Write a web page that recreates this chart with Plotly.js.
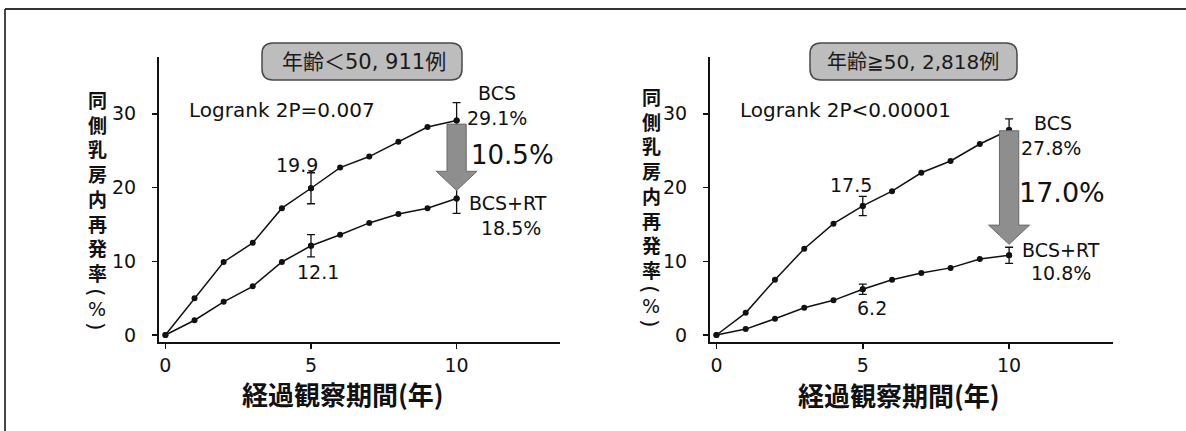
<!DOCTYPE html>
<html><head><meta charset="utf-8">
<script src="https://cdn.plot.ly/plotly-3.0.1.min.js"></script>
<style>html,body{margin:0;padding:0;background:#fff;}#chart{width:1186px;height:431px;}</style>
</head><body><div id="chart"></div>
<script>
// ---- data ----
const years = [0,1,2,3,4,5,6,7,8,9,10];
const youngBCS = [0,5.0,9.9,12.5,17.2,19.9,22.7,24.2,26.2,28.2,29.1];
const youngRT  = [0,2.0,4.5,6.6,9.9,12.1,13.6,15.2,16.4,17.2,18.5];
const oldBCS   = [0,3.0,7.5,11.7,15.1,17.5,19.5,22.0,23.6,25.9,27.8];
const oldRT    = [0,0.8,2.2,3.7,4.7,6.2,7.5,8.4,9.1,10.3,10.8];
const errYears = [5,10];
const youngBCSErr = [2.1,2.4];
const youngRTErr  = [1.5,2.0];
const oldBCSErr   = [1.3,1.5];
const oldRTErr    = [0.7,1.1];
const panelTitles = ['年齢＜50, 911例','年齢≧50, 2,818例'];
const logrankText = ['Logrank 2P=0.007','Logrank 2P<0.00001'];
const diffLabels  = ['10.5%','17.0%'];
const groupNames  = ['BCS','BCS+RT'];
const xTicks = [0,5,10];
const yTicks = [0,10,20,30];
const yTitleMain = ['同','側','乳','房','内','再','発','率'];
const yTitleUnit = ['(','%',')'];
const xTitle = '経過観察期間(年)';

// ---- helpers ----
const W = 1186, H = 431;
const PX = x => x / W, PY = y => 1 - y / H;
const LAT = 'DejaVu Sans, Noto Sans CJK JP, sans-serif';
const CJK = 'Noto Sans CJK JP, sans-serif';
const BLACK = '#111';

function lineTrace(y, xa, ya){
  return {x: years, y: y, xaxis: xa, yaxis: ya, mode: 'lines+markers',
    line: {color: BLACK, width: 1.5}, marker: {color: BLACK, size: 6}, hoverinfo: 'skip'};
}
function errTrace(series, err, xa, ya){
  return {x: errYears, y: errYears.map(v => series[years.indexOf(v)]), xaxis: xa, yaxis: ya,
    mode: 'markers', marker: {color: BLACK, size: 6},
    error_y: {type: 'data', array: err, visible: true, color: BLACK, thickness: 1.3, width: 4},
    hoverinfo: 'skip'};
}
const traces = [
  lineTrace(youngBCS,'x','y'), lineTrace(youngRT,'x','y'),
  errTrace(youngBCS,youngBCSErr,'x','y'), errTrace(youngRT,youngRTErr,'x','y'),
  lineTrace(oldBCS,'x2','y2'), lineTrace(oldRT,'x2','y2'),
  errTrace(oldBCS,oldBCSErr,'x2','y2'), errTrace(oldRT,oldRTErr,'x2','y2')
];

function xAxis(domain, anchor){
  return {domain: domain, range: [-0.22, 13.55], anchor: anchor, showline: true, linecolor: BLACK, linewidth: 2,
    ticks: 'outside', ticklen: 5, tickwidth: 1.5, tickcolor: BLACK, tickvals: xTicks, ticktext: xTicks.map(String),
    showgrid: false, zeroline: false, ticklabelstandoff: 0,
    tickfont: {family: LAT, size: 19, color: BLACK}};
}
function yAxis(anchor){
  return {domain: [1 - 342/H, 1 - 57/H], range: [-0.95, 37.7], anchor: anchor, showline: true, linecolor: BLACK, linewidth: 2,
    ticks: 'outside', ticklen: 5, tickwidth: 1.5, tickcolor: BLACK, tickvals: yTicks, ticktext: yTicks.map(String),
    showgrid: false, zeroline: false, ticklabelstandoff: 12,
    tickfont: {family: LAT, size: 19, color: BLACK}};
}

function rr(x0,y0,x1,y1,r){
  return `M${PX(x0+r)},${PY(y0)} L${PX(x1-r)},${PY(y0)} Q${PX(x1)},${PY(y0)} ${PX(x1)},${PY(y0+r)} ` +
    `L${PX(x1)},${PY(y1-r)} Q${PX(x1)},${PY(y1)} ${PX(x1-r)},${PY(y1)} L${PX(x0+r)},${PY(y1)} ` +
    `Q${PX(x0)},${PY(y1)} ${PX(x0)},${PY(y1-r)} L${PX(x0)},${PY(y0+r)} Q${PX(x0)},${PY(y0)} ${PX(x0+r)},${PY(y0)} Z`;
}
function arrow(xa, ya, top, tip){
  const x = 10, bw = 0.33, hw = 0.7, hl = 2.6, hs = tip + hl;
  return {type: 'path', xref: xa, yref: ya, layer: 'above',
    path: `M${x-bw},${top} L${x+bw},${top} L${x+bw},${hs} L${x+hw},${hs} L${x},${tip} L${x-hw},${hs} L${x-bw},${hs} Z`,
    fillcolor: '#8e8e8e', line: {color: '#6a6a6a', width: 1}};
}

const shapes = [
  {type:'line', xref:'paper', yref:'paper', x0:PX(5), x1:1, y0:PY(9), y1:PY(9), line:{color:'#333', width:1.8}},
  {type:'line', xref:'paper', yref:'paper', x0:PX(5), x1:PX(5), y0:PY(9), y1:0, line:{color:'#333', width:1.8}},
  {type:'path', xref:'paper', yref:'paper', path: rr(262,43,462,80,11), fillcolor:'#bdbdbd', line:{color:'#4a4a4a', width:1.5}},
  {type:'path', xref:'paper', yref:'paper', path: rr(810,43,1017,80,11), fillcolor:'#bdbdbd', line:{color:'#4a4a4a', width:1.5}},
  arrow('x','y', youngBCS[10]-0.5, youngRT[10]+1.1),
  arrow('x2','y2', oldBCS[10]-0.1, oldRT[10]+1.5)
];

function ann(text, x, y, size, opts){
  return Object.assign({text: text, xref:'paper', yref:'paper', x: PX(x), y: PY(y), showarrow:false,
    xanchor:'center', yanchor:'middle', font:{family: LAT, size: size, color: BLACK}}, opts || {});
}
const annotations = [
  ann(panelTitles[0], 364, 62, 21, {font:{family: LAT, size:21, color:'#1a1a1a'}}),
  ann(panelTitles[1], 913, 62, 20, {font:{family: LAT, size:20, color:'#1a1a1a'}}),
  ann(logrankText[0], 187, 110, 20, {xanchor:'left'}),
  ann(logrankText[1], 738, 110, 20, {xanchor:'left'}),
  ann(youngBCS[5].toFixed(1), 297, 165, 19),
  ann(youngRT[5].toFixed(1), 318, 272, 19),
  ann(groupNames[0], 497, 93, 19),
  ann(youngBCS[10].toFixed(1)+'%', 497, 118, 19),
  ann(diffLabels[0], 512, 155, 26),
  ann(groupNames[1], 508, 203, 19),
  ann(youngRT[10].toFixed(1)+'%', 511, 228, 19),
  ann(oldBCS[5].toFixed(1), 851, 185, 19),
  ann(oldRT[5].toFixed(1), 872, 308, 19),
  ann(groupNames[0], 1053, 123, 19),
  ann(oldBCS[10].toFixed(1)+'%', 1051, 148, 19),
  ann(diffLabels[1], 1062, 193, 27),
  ann(groupNames[1], 1061, 250, 19),
  ann(oldRT[10].toFixed(1)+'%', 1061, 273, 19),
  ann(xTitle, 343, 393, 26, {font:{family: CJK, size:26, color: BLACK, weight: 'bold'}}),
  ann(xTitle, 899, 394, 26, {font:{family: CJK, size:26, color: BLACK, weight: 'bold'}})
];
// vertical y-axis titles: one stacked block + rotated unit parentheses
[[97, 102], [651, 99]].forEach(([cx, top]) => {
  const pitch = 24;
  annotations.push(ann(yTitleMain.join('<br>'), cx, top + pitch*(yTitleMain.length-1)/2, 19,
    {font:{family: CJK, size:19, color: BLACK, weight:'bold'}}));
  const last = top + pitch*(yTitleMain.length-1);
  annotations.push(ann(yTitleUnit[0], cx, last + 22, 22, {textangle: 90, font:{family: LAT, size:22, color: BLACK}}));
  annotations.push(ann(yTitleUnit[1], cx, last + 39, 19, {font:{family: LAT, size:19, color: BLACK}}));
  annotations.push(ann(yTitleUnit[2], cx, last + 56, 22, {textangle: 90, font:{family: LAT, size:22, color: BLACK}}));
});

const layout = {
  width: W, height: H, margin: {l:0, r:0, t:0, b:0},
  paper_bgcolor: '#fff', plot_bgcolor: 'rgba(0,0,0,0)', showlegend: false,
  xaxis: xAxis([159/W, 560/W], 'y'), yaxis: yAxis('x'),
  xaxis2: xAxis([710/W, 1113/W], 'y2'), yaxis2: yAxis('x2'),
  shapes: shapes, annotations: annotations
};
Plotly.newPlot('chart', traces, layout, {displayModeBar: false, staticPlot: true});
</script>
</body></html>
